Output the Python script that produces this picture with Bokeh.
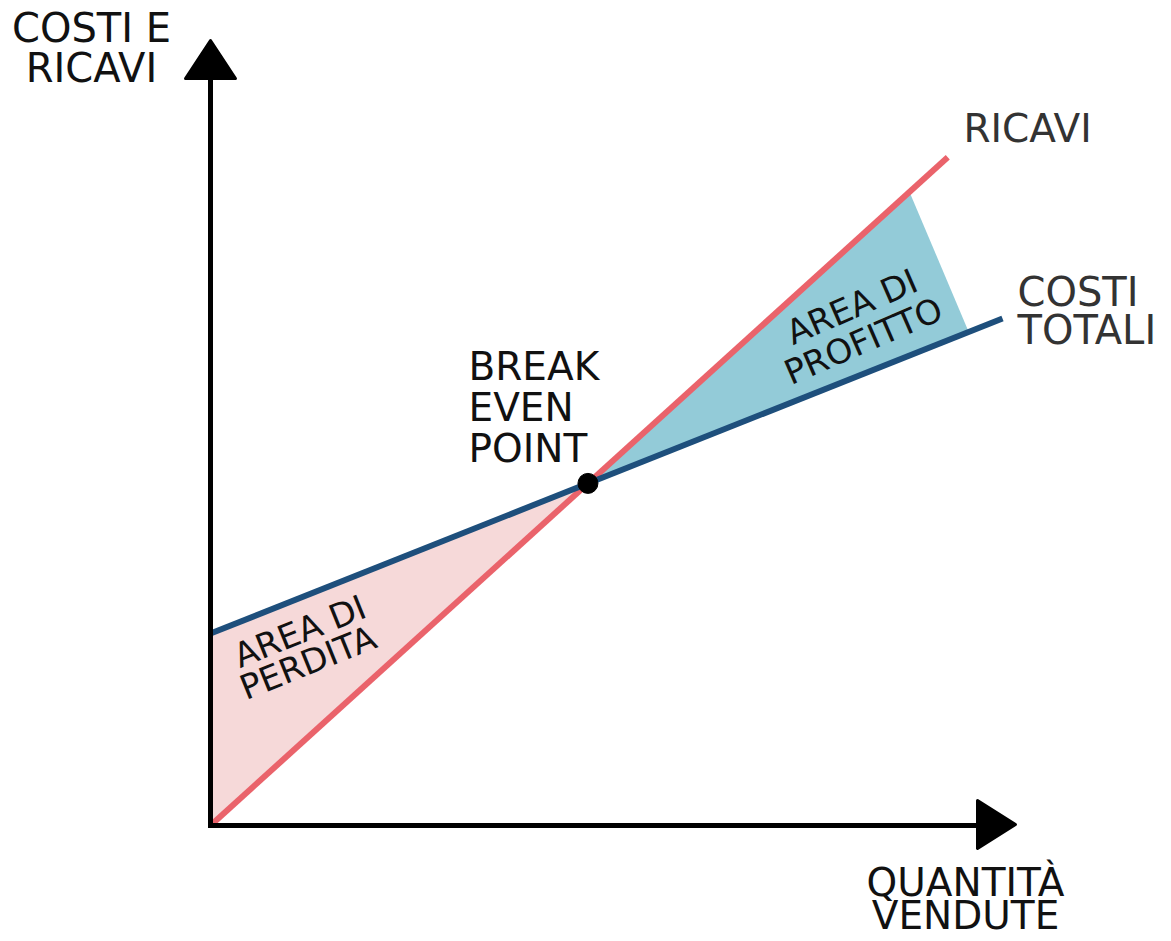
import math
import numpy as np
from bokeh.plotting import figure
from bokeh.models import Range1d
from bokeh.core.properties import value
from bokeh.embed import file_html
from bokeh.resources import INLINE

# ---------------- data ----------------
quantity_revenue = [0.0, 98.3]
revenue = [0.0, 89.1]
quantity_cost = [0.0, 105.6]
total_cost = [25.6, 67.6]
profit_edge_quantity = [93.2, 101.1]   # right edge of the profit area (on revenue, on cost)

axis_titles_y = ["COSTI E", "RICAVI"]
axis_titles_x = ["QUANTITÀ", "VENDUTE"]
bep_label = ["BREAK", "EVEN", "POINT"]
loss_label = ["AREA DI", "PERDITA"]
profit_label = ["AREA DI", "PROFITTO"]

# ---------------- derived ----------------
rev_slope = (revenue[1] - revenue[0]) / (quantity_revenue[1] - quantity_revenue[0])
cost_slope = (total_cost[1] - total_cost[0]) / (quantity_cost[1] - quantity_cost[0])
bep_x = (total_cost[0] - revenue[0]) / (rev_slope - cost_slope)
bep_y = revenue[0] + rev_slope * bep_x


def rev_at(q):
    return revenue[0] + rev_slope * q


def cost_at(q):
    return total_cost[0] + cost_slope * q


# ---------------- layout helpers (picture pixels -> data) ----------------
SCALE = 7.5
OX, OY = 210, 825
FIG_W, FIG_H = 1171, 941
BASE_FIX = 0.39   # baseline correction, in em


def X(px):
    return (px - OX) / SCALE


def Y(py):
    return (OY - py) / SCALE


p = figure(width=FIG_W, height=FIG_H,
           x_range=Range1d(X(0), X(FIG_W)),
           y_range=Range1d(Y(FIG_H), Y(0)),
           output_backend="svg", toolbar_location=None,
           x_axis_type=None, y_axis_type=None, min_border=0,
           outline_line_color=None,
           background_fill_color="white", border_fill_color="white")
p.grid.visible = False

RED = "#ea636b"
BLUE = "#1e4f7c"
PINK = "#f6d9d9"
CYAN = "#93cbd8"

# fills
p.patch([0, bep_x, 0], [total_cost[0], bep_y, revenue[0]],
        fill_color=PINK, line_color=None)
q1, q2 = profit_edge_quantity
p.patch([bep_x, q1, q2], [bep_y, rev_at(q1), cost_at(q2)],
        fill_color=CYAN, line_color=None)

# lines
p.line(quantity_revenue, revenue, line_color=RED, line_width=6, line_cap="butt")
p.line(quantity_cost, total_cost, line_color=BLUE, line_width=6, line_cap="butt")

# axes
p.line([X(OX), X(OX)], [Y(OY + 2.5), Y(75)], line_color="black", line_width=5)
p.line([X(OX - 2.5), X(980)], [Y(OY), Y(OY)], line_color="black", line_width=5)
p.patch([X(185), X(210), X(235)], [Y(78), Y(40), Y(78)],
        fill_color="black", line_color="black", line_width=3, line_join="round")
p.patch([X(977), X(1015), X(977)], [Y(800), Y(824), Y(848)],
        fill_color="black", line_color="black", line_width=3, line_join="round")

# break-even point
p.scatter([bep_x], [bep_y], size=20, fill_color="black", line_color="black")

FONT = value("DejaVu Sans")


def htext(xs, baselines, texts, fs, align, color):
    ys = [Y(b - BASE_FIX * fs) for b in baselines]
    p.text([X(x) for x in xs], ys, text=texts, text_font=FONT,
           text_font_size=f"{fs}px", text_align=align,
           text_baseline="alphabetic", text_color=color)


def rtext(starts, texts, fs, deg, color):
    a = math.radians(deg)
    d = BASE_FIX * fs
    xs = [X(sx - d * math.sin(a)) for sx, sy in starts]
    ys = [Y(sy - d * math.cos(a)) for sx, sy in starts]
    p.text(xs, ys, text=texts, angle=a, text_font=FONT,
           text_font_size=f"{fs}px", text_align="left",
           text_baseline="alphabetic", text_color=color)


# axis titles
htext([91, 91], [43, 83], axis_titles_y, 40, "center", "#111111")
htext([965, 965], [897, 930], axis_titles_x, 39, "center", "#111111")

# series labels
htext([963], [143], ["RICAVI"], 39, "left", "#333333")
htext([1017, 1017], [307, 345], ["COSTI", "TOTALI"], 40, "left", "#333333")

# break-even label
htext([468] * 3, [381, 422, 463], bep_label, 39, "left", "#111111")

# area labels (rotated)
rtext([(240, 669), (246, 701)], loss_label, 34, 22, "#111111")
rtext([(793, 346), (791, 386)], profit_label, 34, 23.5, "#111111")

open("out.html", "w").write(file_html(p, INLINE))
